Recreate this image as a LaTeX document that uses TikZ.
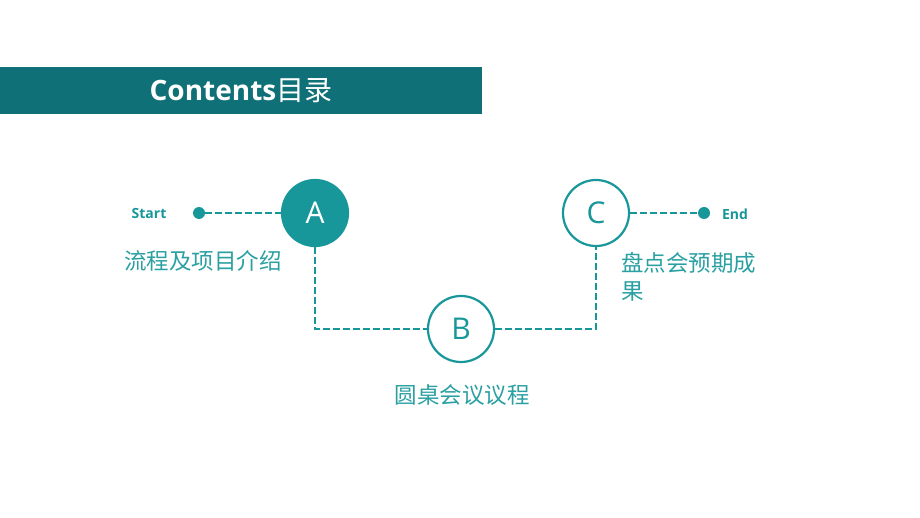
\documentclass[tikz,border=0pt]{standalone}
\usepackage{fontspec}
\setmainfont{Open Sans}
\newfontfamily\cjk{Noto Sans CJK SC}
\usetikzlibrary{calc}
\definecolor{banner}{HTML}{0F7077}
\definecolor{teal}{HTML}{18979A}
\definecolor{labelc}{HTML}{2AA0A2}
\tikzset{
  stepcirc/.style={circle, draw=teal, line width=2.2pt, minimum size=66pt, inner sep=0pt, font=\fontsize{30}{30}\selectfont, text=teal},
  conn/.style={draw=teal, line width=2.4pt, dash pattern=on 6.5pt off 3.5pt},
  dotnode/.style={circle, fill=teal, minimum size=12pt, inner sep=0pt},
  endlabel/.style={font=\fontsize{14}{14}\selectfont\bfseries, text=teal},
  desc/.style={font=\cjk\fontsize{22.5}{28}\selectfont, text=labelc, inner sep=0pt}
}
\begin{document}
\begin{tikzpicture}[x=1pt,y=-1pt]
\useasboundingbox (0,0) rectangle (920,518);
\fill[white] (0,0) rectangle (920,518);
\node[fill=banner, minimum width=482pt, minimum height=47pt, inner sep=0pt, anchor=north west] (banner) at (0,67) {};
\node[text=white, font=\fontsize{28}{28}\selectfont\bfseries, inner sep=0pt] (title) at (241,91) {Contents{\cjk\mdseries 目录}};
\node[stepcirc, fill=teal, text=white] (A) at (315,213) {A};
\node[stepcirc, fill=white] (B) at (461,329) {B};
\node[stepcirc, fill=white] (C) at (596,213) {C};
\node[dotnode] (s) at (199,213) {};
\node[dotnode] (e) at (704,213) {};
\node[endlabel] (st) at (149,214) {Start};
\node[endlabel] (en) at (735,214) {End};
\draw[conn] (s) -- (A);
\draw[conn] (A) |- (B);
\draw[conn] (B) -| (C);
\draw[conn] (C) -- (e);
\node[desc] (la) at (203,261) {流程及项目介绍};
\node[desc] (lb) at (462,395) {圆桌会议议程};
\node[desc, anchor=north west, align=left] (lc) at (621,252) {盘点会预期成\\果};
\end{tikzpicture}
\end{document}
